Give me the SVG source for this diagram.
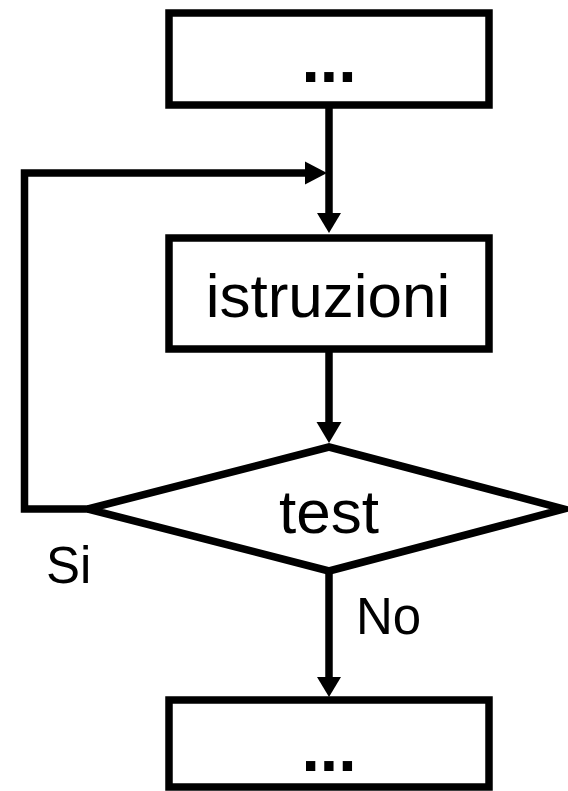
<svg xmlns="http://www.w3.org/2000/svg" width="568" height="791" viewBox="0 0 568 791">
<style>
.box{fill:#fff;stroke:#000;stroke-width:7.5;stroke-linejoin:miter}
.ln{fill:none;stroke:#000;stroke-width:7.5;stroke-linejoin:miter}
.ah{fill:#000;stroke:none}
.t{font-family:"Liberation Sans",Arial,sans-serif;fill:#000}
.big{font-size:62px;text-anchor:middle}
.dots{font-size:66px;font-weight:bold;text-anchor:middle}
.lbl{font-size:51px}
</style>
<rect width="568" height="791" fill="#fff"/>
<g id="connectors">
<line class="ln" x1="329" y1="105" x2="329" y2="216"/>
<polygon class="ah" points="317,213 341,213 329,233"/>
<line class="ln" x1="329" y1="349" x2="329" y2="425"/>
<polygon class="ah" points="316.5,422 341.5,422 329,443"/>
<line class="ln" x1="329" y1="571" x2="329" y2="680"/>
<polygon class="ah" points="317,677 341,677 329,697"/>
<path class="ln" d="M88,509 H24.5 V173 H308"/>
<polygon class="ah" points="305,161.5 327,173 305,184.5"/>
<text class="t lbl" x="46" y="583">Si</text>
<text class="t lbl" x="356" y="634">No</text>
</g>
<g id="start">
<rect class="box" x="169" y="13" width="320" height="92"/>
<text class="t dots" x="329" y="82">...</text>
</g>
<g id="istruzioni">
<rect class="box" x="169" y="238" width="320" height="111"/>
<text class="t big" x="328" y="317">istruzioni</text>
</g>
<g id="test">
<polygon class="box" points="329,447 564,509 329,571 88,509"/>
<text class="t big" x="329" y="533">test</text>
</g>
<g id="end">
<rect class="box" x="169" y="700" width="320" height="87"/>
<text class="t dots" x="329" y="771">...</text>
</g>
</svg>
